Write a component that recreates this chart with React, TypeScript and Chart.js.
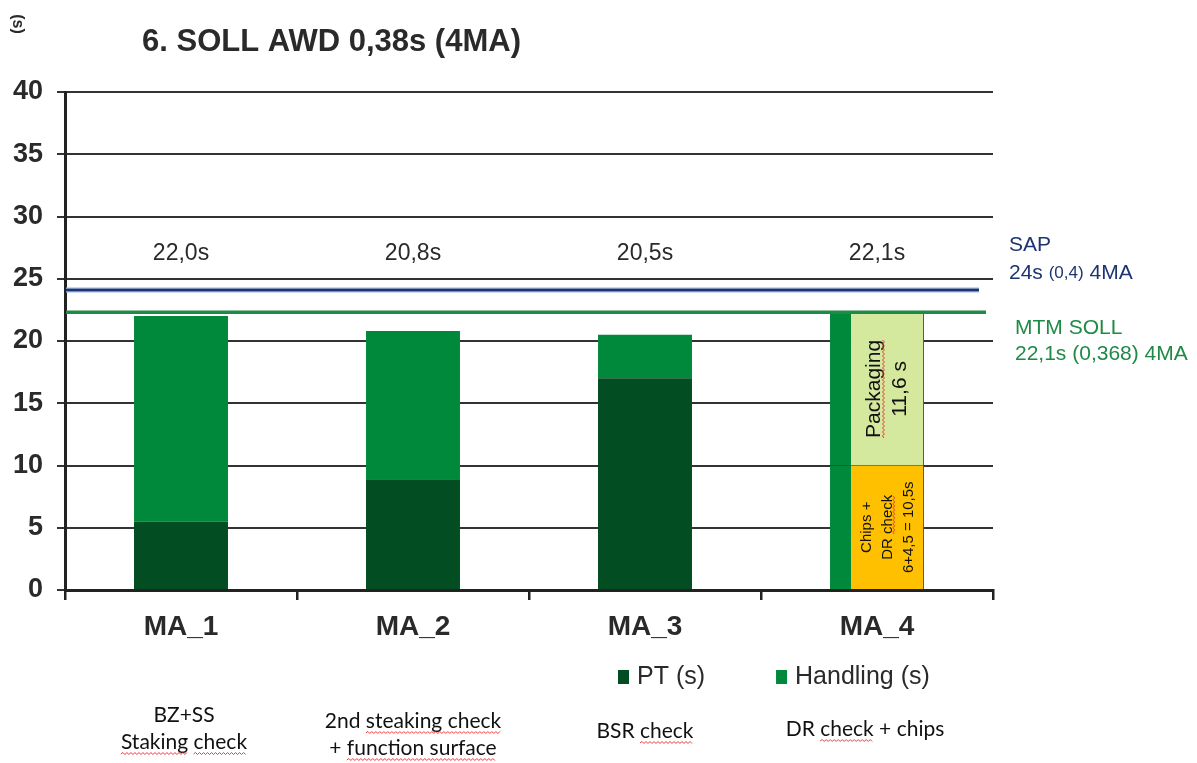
import React, { useEffect, useRef } from 'react';
import { Chart, registerables } from 'chart.js';

Chart.register(...registerables);

// ---------- data ----------
const categories = ['MA_1', 'MA_2', 'MA_3', 'MA_4'];
const ptValues = [5.5, 8.9, 17.0, null];
const handlingValues = [16.5, 11.9, 3.5, null];
const chipsValues = [null, null, null, 10.0];
const packagingValues = [null, null, null, 12.3];
const totalLabels = ['22,0s', '20,8s', '20,5s', '22,1s'];
const totalLabelLevel = 27;
const sapValue = 24.1;
const mtmValue = 22.3;
const yMin = 0;
const yMax = 40;
const yStep = 5;
const seriesNames = ['PT (s)', 'Handling (s)'];
const titleText = '6. SOLL AWD 0,38s (4MA)';
const unitText = '(s)';
const descriptions = [
  ['BZ+SS', 'Staking check'],
  ['2nd steaking check', '+ function surface'],
  ['BSR check'],
  ['DR check + chips'],
];
// spell-check marked parts: [category, line, marked substring]
const spellMarks: [number, number, string][] = [
  [0, 1, 'Staking'],
  [0, 1, 'check'],
  [1, 0, 'steaking check'],
  [1, 1, 'function surface'],
  [2, 0, 'check'],
  [3, 0, 'check'],
];
const packagingText = ['Packaging', '11,6 s'];
const chipsText = ['Chips +', 'DR check', '6+4,5 = 10,5s'];
const sapTitle = 'SAP';
const sapParts = ['24s ', '(0,4)', ' 4MA'];
const mtmTitle = 'MTM SOLL';
const mtmSub = '22,1s (0,368) 4MA';

// ---------- styles ----------
const FONT = "'Liberation Sans', Arial, sans-serif";
const NARROW = "Lato, 'Liberation Sans', sans-serif";
const C_PT = '#024D22';
const C_HANDLING = '#00883B';
const C_PACK = '#D4E89E';
const C_CHIPS = '#FFC000';
const C_SAP = '#1C3472';
const C_MTM = '#1E8A45';
const C_TEXT = '#2a2a2a';
const C_SQUIGGLE = '#E8383D';

function squiggle(ctx: CanvasRenderingContext2D, x0: number, x1: number, y: number) {
  ctx.save();
  ctx.strokeStyle = C_SQUIGGLE;
  ctx.lineWidth = 1;
  ctx.beginPath();
  let up = true;
  ctx.moveTo(x0, y);
  for (let xx = x0 + 2; xx <= x1; xx += 2) {
    ctx.lineTo(xx, up ? y - 1.5 : y + 0.5);
    up = !up;
  }
  ctx.stroke();
  ctx.restore();
}

const overlayPlugin = {
  id: 'overlay',
  afterDatasetsDraw(chart: any) {
    const { ctx, chartArea, scales } = chart;
    const x = scales.x;
    const y = scales.y;
    ctx.save();

    // reference lines
    const ySap = y.getPixelForValue(sapValue);
    ctx.lineCap = 'butt';
    ctx.strokeStyle = '#9DB2D6';
    ctx.lineWidth = 5;
    ctx.beginPath();
    ctx.moveTo(chartArea.left + 1, ySap);
    ctx.lineTo(chartArea.right - 14, ySap);
    ctx.stroke();
    ctx.strokeStyle = C_SAP;
    ctx.lineWidth = 2.5;
    ctx.beginPath();
    ctx.moveTo(chartArea.left + 1, ySap);
    ctx.lineTo(chartArea.right - 14, ySap);
    ctx.stroke();

    const yMtm = y.getPixelForValue(mtmValue);
    ctx.strokeStyle = C_MTM;
    ctx.lineWidth = 3.5;
    ctx.beginPath();
    ctx.moveTo(chartArea.left + 1, yMtm);
    ctx.lineTo(chartArea.right - 7, yMtm);
    ctx.stroke();

    // total labels
    ctx.fillStyle = C_TEXT;
    ctx.font = `23px ${FONT}`;
    ctx.textAlign = 'center';
    ctx.textBaseline = 'middle';
    const yl = y.getPixelForValue(totalLabelLevel);
    totalLabels.forEach((t, i) => {
      ctx.fillText(t, x.getPixelForValue(i), yl);
    });

    // rotated texts inside MA_4 segments
    const metaChips = chart.getDatasetMeta(2).data[3];
    const metaPack = chart.getDatasetMeta(3).data[3];
    const drawRotated = (el: any, lines: string[], size: number, lh: number, marks: [number, string][]) => {
      if (!el) return;
      const left = el.x - el.width / 2 + 21;
      const right = el.x + el.width / 2;
      const cx = (left + right) / 2;
      const cy = (el.y + el.base) / 2;
      ctx.save();
      ctx.translate(cx, cy);
      ctx.rotate(-Math.PI / 2);
      ctx.fillStyle = '#111';
      ctx.font = `${size}px ${FONT}`;
      ctx.textAlign = 'center';
      ctx.textBaseline = 'middle';
      const n = lines.length;
      lines.forEach((l, i) => {
        ctx.fillText(l, 0, (i - (n - 1) / 2) * lh);
      });
      marks.forEach(([li, sub]) => {
        const l = lines[li];
        const w = ctx.measureText(l).width;
        const idx = l.indexOf(sub);
        const sx = -w / 2 + ctx.measureText(l.slice(0, idx)).width;
        const ex = sx + ctx.measureText(sub).width;
        squiggle(ctx, sx, ex, (li - (n - 1) / 2) * lh + size * 0.45);
      });
      ctx.restore();
    };
    drawRotated(metaPack, packagingText, 21, 26, [[0, 'Packaging']]);
    drawRotated(metaChips, chipsText, 15, 21, [[1, 'check']]);

    ctx.restore();
  },
  afterDraw(chart: any) {
    const { ctx, scales } = chart;
    const x = scales.x;
    ctx.save();

    // title
    ctx.fillStyle = C_TEXT;
    ctx.font = `bold 31px ${FONT}`;
    ctx.textAlign = 'left';
    ctx.textBaseline = 'middle';
    ctx.fillText(titleText, 142, 42);

    // unit
    ctx.save();
    ctx.translate(17, 24);
    ctx.rotate(Math.PI / 2);
    ctx.font = `bold 16px ${FONT}`;
    ctx.textAlign = 'center';
    ctx.fillText(unitText, 0, 0);
    ctx.restore();

    // right annotations
    ctx.textAlign = 'left';
    ctx.fillStyle = C_SAP;
    ctx.font = `21px ${FONT}`;
    ctx.fillText(sapTitle, 1009, 245);
    let px = 1009;
    sapParts.forEach((p, i) => {
      ctx.font = i === 1 ? `17px ${FONT}` : `21px ${FONT}`;
      ctx.fillText(p, px, 273);
      px += ctx.measureText(p).width;
    });
    ctx.fillStyle = C_MTM;
    ctx.font = `21px ${FONT}`;
    ctx.fillText(mtmTitle, 1015, 328);
    ctx.fillText(mtmSub, 1015, 354);

    // legend
    const colors = [C_PT, C_HANDLING];
    ctx.font = `25px ${FONT}`;
    let lx = 618;
    const ly = 677;
    seriesNames.forEach((name, i) => {
      ctx.fillStyle = colors[i];
      ctx.fillRect(lx, ly - 7, 11, 14);
      ctx.fillStyle = C_TEXT;
      ctx.fillText(name, lx + 19, ly);
      lx += 19 + ctx.measureText(name).width + 71;
    });

    // descriptions
    ctx.fillStyle = '#111';
    ctx.font = `21px ${NARROW}`;
    ctx.textAlign = 'center';
    const firstY = [715, 721, 731, 729];
    const centers = descriptions.map((_, i) => x.getPixelForValue(i) + (i === 0 ? 3 : i === 3 ? -12 : 0));
    descriptions.forEach((lines, i) => {
      lines.forEach((l, j) => {
        ctx.fillText(l, centers[i], firstY[i] + j * 27);
      });
    });
    spellMarks.forEach(([ci, li, sub]) => {
      const l = descriptions[ci][li];
      const w = ctx.measureText(l).width;
      const idx = l.indexOf(sub);
      const sx = centers[ci] - w / 2 + ctx.measureText(l.slice(0, idx)).width;
      const ex = sx + ctx.measureText(sub).width;
      squiggle(ctx, sx, ex, firstY[ci] + li * 27 + 12);
    });

    ctx.restore();
  },
};

export default function App() {
  const ref = useRef<HTMLCanvasElement>(null);
  useEffect(() => {
    document.body.style.margin = '0';
    const canvas = ref.current;
    if (!canvas) return;
    const chart = new Chart(canvas, {
      type: 'bar',
      data: {
        labels: categories,
        datasets: [
          {
            label: seriesNames[0],
            data: ptValues as any,
            backgroundColor: C_PT,
            borderWidth: 0,
            stack: 's',
          },
          {
            label: seriesNames[1],
            data: handlingValues as any,
            backgroundColor: C_HANDLING,
            borderWidth: 0,
            stack: 's',
          },
          {
            label: 'Chips',
            data: chipsValues as any,
            backgroundColor: C_CHIPS,
            borderColor: C_HANDLING,
            borderWidth: { left: 21, right: 1, top: 0, bottom: 0 } as any,
            borderSkipped: false,
            stack: 's',
          },
          {
            label: 'Packaging',
            data: packagingValues as any,
            backgroundColor: C_PACK,
            borderColor: C_HANDLING,
            borderWidth: { left: 21, right: 1, top: 1, bottom: 0 } as any,
            borderSkipped: false,
            stack: 's',
          },
        ],
      },
      options: {
        animation: false,
        responsive: true,
        maintainAspectRatio: false,
        layout: { padding: { top: 92, right: 204, left: 0, bottom: 0 } },
        datasets: {
          bar: { categoryPercentage: 1, barPercentage: 0.405 },
        },
        plugins: {
          legend: { display: false },
          title: { display: false },
          tooltip: { enabled: false },
        },
        scales: {
          x: {
            stacked: true,
            afterFit(axis: any) {
              axis.height = 173;
            },
            grid: {
              display: true,
              drawOnChartArea: false,
              drawTicks: true,
              tickLength: 10,
              offset: true,
              color: '#222',
              lineWidth: 2.5,
            },
            border: { display: true, color: '#222', width: 3 },
            ticks: {
              color: C_TEXT,
              font: { family: FONT, size: 28, weight: 'bold' },
              padding: 10,
            },
          },
          y: {
            stacked: true,
            min: yMin,
            max: yMax,
            afterFit(axis: any) {
              axis.width = 65;
            },
            grid: {
              color: '#333',
              lineWidth: 2,
              tickLength: 8,
            },
            border: { display: true, color: '#222', width: 3 },
            ticks: {
              stepSize: yStep,
              color: C_TEXT,
              padding: 14,
              font: { family: FONT, size: 27, weight: 'bold' },
            },
          },
        },
      },
      plugins: [overlayPlugin],
    });
    return () => chart.destroy();
  }, []);
  return (
    <div style={{ position: 'relative', width: 1197, height: 763, background: '#fff' }}>
      <canvas ref={ref} />
    </div>
  );
}
